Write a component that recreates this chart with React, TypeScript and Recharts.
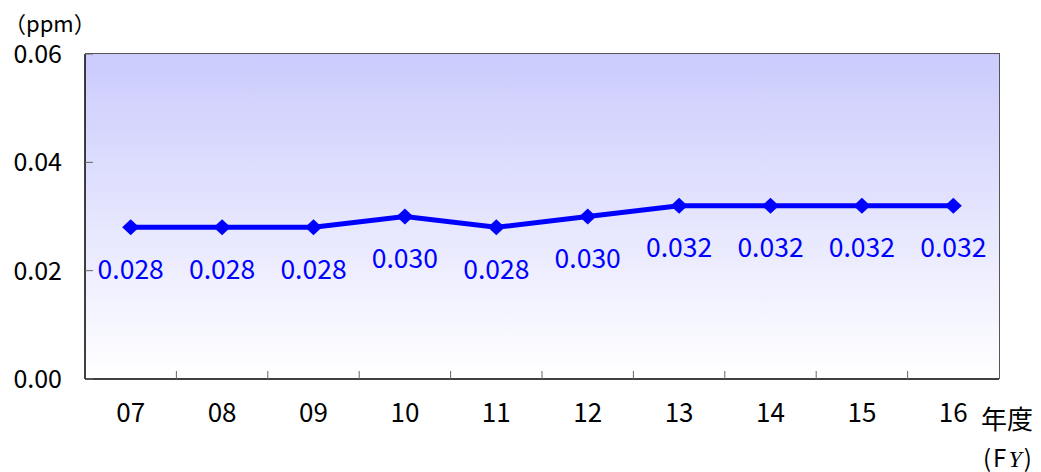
import React from 'react';
import {
  LineChart,
  Line,
  XAxis,
  YAxis,
  CartesianGrid,
  LabelList,
} from 'recharts';

const years = ['07', '08', '09', '10', '11', '12', '13', '14', '15', '16'];
const ppm = [0.028, 0.028, 0.028, 0.03, 0.028, 0.03, 0.032, 0.032, 0.032, 0.032];
const yTicks = [0, 0.02, 0.04, 0.06];

const data = years.map((year, i) => ({ year, value: ppm[i] }));

const FONT = "'Noto Sans CJK JP', 'Noto Sans', sans-serif";
const BLUE = '#0000ff';

// plot box
const LEFT = 85;
const TOP = 54;
const PLOT_W = 914;
const PLOT_H = 325;
const HALF_BAND = PLOT_W / years.length / 2;
const X_LABEL_GAP = 25;

const Diamond = (props: any) => {
  const { cx, cy } = props;
  if (cx == null || cy == null) return null;
  return (
    <polygon
      points={`${cx - 8.5},${cy} ${cx},${cy - 8} ${cx + 8.5},${cy} ${cx},${cy + 8}`}
      fill={BLUE}
    />
  );
};

const ValueLabel = (props: any) => {
  const { x, y, value } = props;
  return (
    <text
      x={x}
      y={y + 40}
      textAnchor="middle"
      dominantBaseline="central"
      fill={BLUE}
      fontSize={26.5}
      fontFamily={FONT}
    >
      {Number(value).toFixed(3)}
    </text>
  );
};

// label plus the inward tick at the right edge of each category band
const YearTick = (props: any) => {
  const { x, y, payload, index } = props;
  const axisY = y - X_LABEL_GAP;
  return (
    <g>
      {index < years.length - 1 && (
        <line x1={x + HALF_BAND} x2={x + HALF_BAND} y1={axisY} y2={axisY - 8} stroke="#666" />
      )}
      <text x={x} y={y} dy="0.71em" textAnchor="middle" fill="#000" fontSize={26} fontFamily={FONT}>
        {payload.value}
      </text>
    </g>
  );
};

export default function App() {
  return (
    <div style={{ position: 'absolute', left: 0, top: 0, width: 1041, height: 472, background: '#fff' }}>
      <LineChart
        width={1041}
        height={472}
        data={data}
        margin={{ top: TOP, right: 1041 - LEFT - PLOT_W, left: LEFT - 1, bottom: 472 - TOP - PLOT_H - 1 }}
      >
        <defs>
          <linearGradient id="bg" x1="0" y1="0" x2="0" y2="1">
            <stop offset="0%" stopColor="#cbcbfd" />
            <stop offset="100%" stopColor="#ffffff" />
          </linearGradient>
        </defs>
        <CartesianGrid fill="url(#bg)" horizontal={false} vertical={false} />
        <XAxis
          dataKey="year"
          height={1}
          padding={{ left: HALF_BAND, right: HALF_BAND }}
          tickLine={false}
          tickSize={0}
          tickMargin={X_LABEL_GAP}
          axisLine={{ stroke: '#000', strokeWidth: 1.5 }}
          tick={<YearTick />}
          interval={0}
        />
        <YAxis
          width={1}
          type="number"
          domain={[0, 0.06]}
          ticks={yTicks}
          tickFormatter={(v: number) => v.toFixed(2)}
          tickSize={-8}
          tickMargin={31}
          tickLine={{ stroke: '#666' }}
          axisLine={{ stroke: '#000', strokeWidth: 1.5 }}
          tick={{ fill: '#000', fontSize: 25, fontFamily: FONT }}
        />
        <Line
          type="linear"
          dataKey="value"
          stroke={BLUE}
          strokeWidth={5}
          dot={<Diamond />}
          activeDot={false}
          isAnimationActive={false}
        >
          <LabelList dataKey="value" content={<ValueLabel />} />
        </Line>
      </LineChart>
      <div
        style={{
          position: 'absolute',
          left: LEFT,
          top: TOP - 1,
          width: PLOT_W,
          height: PLOT_H,
          borderTop: '1.5px solid #555',
          borderRight: '1.5px solid #555',
          pointerEvents: 'none',
        }}
      />
      <div style={{ position: 'absolute', left: 4, top: 10, fontSize: 22, fontFamily: FONT, lineHeight: '24px', whiteSpace: 'nowrap' }}>
        （ppm）
      </div>
      <div style={{ position: 'absolute', left: 981, top: 402, fontSize: 26, fontFamily: FONT, lineHeight: '32px', whiteSpace: 'nowrap' }}>
        年度
      </div>
      <div style={{ position: 'absolute', left: 983, top: 444, fontSize: 24, fontFamily: FONT, lineHeight: '26px', letterSpacing: 2, whiteSpace: 'nowrap' }}>
        (F<span style={{ fontFamily: "'Liberation Serif', serif", fontStyle: 'italic' }}>Y</span>)
      </div>
    </div>
  );
}
